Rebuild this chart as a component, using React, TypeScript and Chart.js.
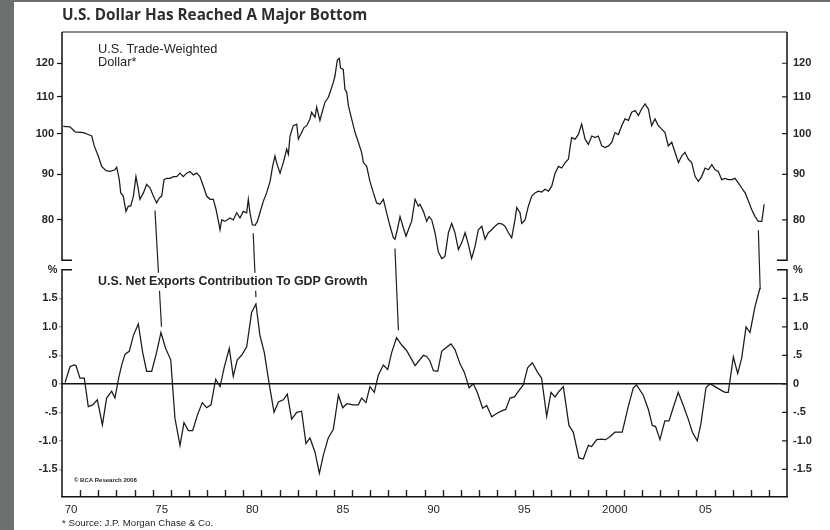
import React, { useEffect, useRef } from 'react';
import { Chart, registerables } from 'chart.js';

Chart.register(...registerables);

// ---------- texts ----------
const TITLE = 'U.S. Dollar Has Reached A Major Bottom';
const SOURCE_NOTE = '* Source: J.P. Morgan Chase & Co.';
const DOLLAR_NAME = ['U.S. Trade-Weighted', 'Dollar*'];
const NET_NAME = 'U.S. Net Exports Contribution To GDP Growth';
const COPYRIGHT = '\u00A9 BCA Research 2008';

// ---------- axes ----------
const YEAR_MIN = 1970;
const YEAR_MAX = 2010;
const YEAR_LABEL_POS = [1970.5, 1975.5, 1980.5, 1985.5, 1990.5, 1995.5, 2000.5, 2005.5];
const YEAR_LABELS = ['70', '75', '80', '85', '90', '95', '2000', '05'];

const DOLLAR_TICKS = [80, 90, 100, 110, 120];
const DOLLAR_MIN = 71.2;
const DOLLAR_MAX = 130.1;
const DOLLAR_PANEL_FLOOR = 72.1;

const NET_TICKS = [-1.5, -1, -0.5, 0, 0.5, 1, 1.5, 2];
const NET_TICK_LABELS = ['-1.5', '-1.0', '-.5', '0', '.5', '1.0', '1.5', '%'];
const NET_MIN = -1.986;
const NET_MAX = 2.084;
const NET_PANEL_CEILING = 2;

// ---------- data: U.S. trade-weighted dollar (log scale) ----------
const DOLLAR_DATES = [
  1970.07, 1970.44, 1970.72, 1971.18, 1971.45, 1971.64, 1971.78, 1972.0, 1972.19, 1972.43,
  1972.65, 1972.92, 1973.02, 1973.16, 1973.24, 1973.38, 1973.53, 1973.66, 1973.79, 1973.94,
  1974.08, 1974.21, 1974.3, 1974.49, 1974.67, 1974.86, 1975.04, 1975.22, 1975.37, 1975.5,
  1975.63, 1975.77, 1975.96, 1976.14, 1976.33, 1976.51, 1976.69, 1976.88, 1977.06, 1977.25,
  1977.43, 1977.61, 1977.8, 1977.98, 1978.17, 1978.35, 1978.5, 1978.63, 1978.72, 1978.81,
  1978.99, 1979.27, 1979.45, 1979.64, 1979.82, 1980.0, 1980.19, 1980.28, 1980.37, 1980.5,
  1980.65, 1980.78, 1980.92, 1981.11, 1981.29, 1981.48, 1981.62, 1981.75, 1981.84, 1982.03,
  1982.21, 1982.4, 1982.49, 1982.58, 1982.76, 1982.95, 1983.04, 1983.22, 1983.35, 1983.5,
  1983.68, 1983.77, 1983.96, 1984.05, 1984.23, 1984.33, 1984.51, 1984.69, 1984.79, 1984.97,
  1985.06, 1985.19, 1985.3, 1985.37, 1985.52, 1985.61, 1985.71, 1985.8, 1985.98, 1986.17,
  1986.35, 1986.53, 1986.63, 1986.81, 1986.99, 1987.18, 1987.36, 1987.54, 1987.73, 1987.91,
  1988.1, 1988.28, 1988.37, 1988.5, 1988.65, 1988.83, 1988.98, 1989.11, 1989.29, 1989.48,
  1989.66, 1989.75, 1989.94, 1990.12, 1990.25, 1990.4, 1990.58, 1990.76, 1990.95, 1991.13,
  1991.32, 1991.5, 1991.68, 1991.87, 1992.05, 1992.24, 1992.42, 1992.6, 1992.79, 1992.97,
  1993.16, 1993.34, 1993.52, 1993.71, 1993.89, 1994.08, 1994.26, 1994.44, 1994.63, 1994.81,
  1994.99, 1995.09, 1995.27, 1995.36, 1995.55, 1995.73, 1995.92, 1996.1, 1996.28, 1996.47,
  1996.65, 1996.84, 1997.02, 1997.2, 1997.39, 1997.57, 1997.76, 1997.94, 1998.03, 1998.12,
  1998.31, 1998.49, 1998.67, 1998.86, 1999.04, 1999.23, 1999.41, 1999.59, 1999.78, 1999.96,
  2000.15, 2000.33, 2000.51, 2000.7, 2000.88, 2001.06, 2001.25, 2001.43, 2001.62, 2001.8,
  2001.98, 2002.17, 2002.35, 2002.53, 2002.72, 2002.9, 2003.09, 2003.27, 2003.45, 2003.64,
  2003.82, 2004.01, 2004.19, 2004.37, 2004.56, 2004.74, 2004.93, 2005.11, 2005.29, 2005.48,
  2005.66, 2005.85, 2006.03, 2006.21, 2006.4, 2006.58, 2006.77, 2006.95, 2007.13, 2007.32,
  2007.5, 2007.69, 2007.87, 2008.05, 2008.24, 2008.42, 2008.61, 2008.74,
];
const DOLLAR_VALUES = [
  101.9, 101.8, 100.5, 100.3, 99.8, 99.4, 96.9, 94.4, 91.9, 90.9,
  90.7, 91.1, 91.7, 88.8, 85.8, 85.1, 81.8, 82.9, 82.9, 85.1,
  89.5, 86.6, 84.4, 85.8, 87.7, 86.9, 85.1, 83.6, 84.7, 85.1,
  88.8, 89.1, 89.1, 89.5, 89.5, 90.3, 89.5, 90.3, 90.7, 89.9,
  90.3, 89.5, 87.3, 85.1, 84.4, 84.4, 82.2, 79.7, 78.0, 80.0,
  79.7, 80.4, 80.0, 81.5, 80.4, 81.8, 81.5, 84.4, 81.5, 79.0,
  78.9, 79.7, 81.5, 84.0, 85.8, 88.4, 91.9, 94.4, 92.8, 90.3,
  92.8, 96.1, 94.8, 99.4, 102.1, 102.5, 98.6, 100.3, 101.6, 102.1,
  103.9, 105.7, 104.4, 107.1, 103.5, 105.3, 108.5, 109.8, 111.3, 114.2,
  116.1, 121.0, 121.5, 118.5, 118.1, 112.2, 111.3, 107.5, 103.9, 100.3,
  97.8, 95.3, 92.8, 91.9, 88.4, 85.8, 83.6, 83.3, 84.4, 81.5,
  78.7, 76.4, 76.1, 78.0, 80.7, 78.4, 76.7, 78.0, 79.7, 84.4,
  82.9, 83.3, 81.8, 79.7, 80.7, 80.0, 77.4, 73.7, 72.4, 72.8,
  77.4, 79.3, 77.4, 74.1, 75.4, 77.4, 75.1, 72.4, 74.7, 78.0,
  78.7, 76.1, 77.4, 78.0, 78.7, 79.3, 79.2, 78.7, 77.4, 76.4,
  80.0, 82.6, 81.5, 79.3, 80.0, 82.9, 85.1, 85.8, 86.2, 86.0,
  86.6, 86.2, 87.3, 90.2, 91.9, 91.5, 92.8, 93.6, 96.5, 99.0,
  98.6, 99.8, 102.5, 98.6, 97.3, 99.4, 99.0, 99.4, 96.9, 96.5,
  96.9, 97.8, 100.3, 99.8, 102.1, 103.9, 103.5, 105.7, 106.2, 104.8,
  106.6, 108.0, 106.6, 102.1, 103.9, 102.1, 101.2, 100.3, 96.9, 97.8,
  95.3, 92.8, 94.4, 95.3, 93.6, 92.8, 89.5, 88.4, 89.5, 91.5,
  91.1, 92.3, 91.1, 90.7, 88.8, 89.1, 88.8, 88.8, 89.1, 88.0,
  86.9, 85.8, 84.0, 82.2, 80.7, 79.7, 79.7, 83.3,
];

// ---------- data: U.S. net exports contribution to GDP growth (%) ----------
const NET_DATES = [
  1970.17, 1970.44, 1970.66, 1970.77, 1970.99, 1971.23, 1971.45, 1971.69, 1971.95, 1972.23,
  1972.46, 1972.74, 1972.92, 1973.14, 1973.31, 1973.48, 1973.71, 1973.94, 1974.21, 1974.45,
  1974.67, 1974.95, 1975.22, 1975.46, 1975.72, 1976.0, 1976.23, 1976.51, 1976.73, 1976.97,
  1977.21, 1977.47, 1977.74, 1977.98, 1978.22, 1978.48, 1978.72, 1978.96, 1979.23, 1979.45,
  1979.67, 1979.91, 1980.19, 1980.46, 1980.7, 1980.92, 1981.16, 1981.44, 1981.7, 1981.94,
  1982.21, 1982.43, 1982.67, 1982.95, 1983.22, 1983.46, 1983.68, 1983.96, 1984.2, 1984.42,
  1984.69, 1984.97, 1985.25, 1985.49, 1985.71, 1986.07, 1986.35, 1986.53, 1986.77, 1986.99,
  1987.23, 1987.45, 1987.73, 1987.97, 1988.19, 1988.46, 1988.74, 1989.02, 1989.48, 1989.94,
  1990.12, 1990.3, 1990.49, 1990.73, 1990.95, 1991.13, 1991.46, 1991.68, 1991.96, 1992.2,
  1992.46, 1992.69, 1992.91, 1993.21, 1993.43, 1993.71, 1993.98, 1994.29, 1994.48, 1994.72,
  1994.96, 1995.21, 1995.45, 1995.69, 1995.95, 1996.24, 1996.46, 1996.74, 1996.98, 1997.2,
  1997.43, 1997.66, 1997.97, 1998.21, 1998.52, 1998.76, 1999.04, 1999.22, 1999.5, 1999.77,
  1999.99, 2000.23, 2000.51, 2000.91, 2001.24, 2001.52, 2001.7, 2002.07, 2002.35, 2002.57,
  2002.75, 2002.99, 2003.26, 2003.49, 2003.72, 2004.0, 2004.28, 2004.55, 2004.78, 2005.05,
  2005.25, 2005.53, 2005.75, 2006.03, 2006.4, 2006.58, 2006.76, 2007.04, 2007.28, 2007.5,
  2007.74, 2007.96, 2008.23, 2008.51,
];
const NET_VALUES = [
  0.02, 0.30, 0.33, 0.32, 0.10, 0.10, -0.40, -0.37, -0.28, -0.72,
  -0.25, -0.13, -0.25, 0.12, 0.35, 0.52, 0.57, 0.85, 1.05, 0.55,
  0.22, 0.22, 0.55, 0.90, 0.62, 0.42, -0.60, -1.08, -0.68, -0.82,
  -0.82, -0.55, -0.33, -0.42, -0.37, 0.08, -0.05, 0.30, 0.62, 0.13,
  0.42, 0.50, 0.65, 1.25, 1.40, 0.85, 0.55, -0.02, -0.50, -0.32,
  -0.28, -0.18, -0.62, -0.50, -0.48, -1.05, -0.95, -1.20, -1.57, -1.25,
  -0.95, -0.80, -0.20, -0.42, -0.35, -0.37, -0.37, -0.25, -0.33, -0.05,
  -0.15, 0.15, 0.33, 0.25, 0.55, 0.81, 0.68, 0.58, 0.32, 0.50,
  0.48, 0.40, 0.23, 0.22, 0.57, 0.62, 0.70, 0.60, 0.35, 0.20,
  -0.07, 0.00, -0.15, -0.43, -0.38, -0.58, -0.52, -0.47, -0.45, -0.25,
  -0.23, -0.12, -0.02, 0.28, 0.37, 0.20, 0.10, -0.57, -0.15, -0.23,
  -0.13, -0.05, -0.73, -0.85, -1.30, -1.32, -1.08, -1.10, -0.98, -0.97,
  -0.98, -0.93, -0.85, -0.85, -0.40, -0.07, -0.02, -0.20, -0.45, -0.73,
  -0.75, -0.98, -0.65, -0.65, -0.42, -0.15, -0.38, -0.62, -0.85, -1.00,
  -0.70, -0.07, 0.00, -0.05, -0.12, -0.15, -0.15, 0.47, 0.18, 0.45,
  1.00, 0.90, 1.35, 1.68,
];

// ---------- connector lines: dollar trough -> net exports peak ----------
const CONNECTOR_FROM_YEAR = [1975.13, 1980.55, 1988.37, 2008.42];
const CONNECTOR_FROM_DOLLAR = [82.0, 77.3, 74.3, 77.9];
const CONNECTOR_TO_YEAR = [1975.49, 1980.7, 1988.56, 2008.52];
const CONNECTOR_TO_NET = [1.0, 1.52, 0.94, 1.66];

// ---------- style ----------
const FONT = '"Liberation Sans", Arial, Helvetica, sans-serif';
const TEXT = '#262626';
const AXIS = '#111111';
const LINE = '#1a1a1a';

const decorPlugin = {
  id: 'decor',
  afterDatasetsDraw(chart: any) {
    const ctx: CanvasRenderingContext2D = chart.ctx;
    const { left, right, top, bottom } = chart.chartArea;
    const sx = chart.scales.x;
    const yD = chart.scales.yD;
    const yN = chart.scales.yN;
    const yDR = chart.scales.yDR;
    const yNR = chart.scales.yNR;
    const dFloor = yD.getPixelForValue(DOLLAR_PANEL_FLOOR);
    const nCeil = yN.getPixelForValue(NET_PANEL_CEILING);

    ctx.save();
    // top border of upper panel
    ctx.strokeStyle = '#8f8f8f';
    ctx.lineWidth = 2;
    ctx.beginPath();
    ctx.moveTo(left, top);
    ctx.lineTo(right, top);
    ctx.stroke();

    // panel axis lines
    ctx.strokeStyle = AXIS;
    ctx.lineWidth = 1.5;
    ctx.beginPath();
    ctx.moveTo(left, top);
    ctx.lineTo(left, dFloor);
    ctx.lineTo(left + 10, dFloor);
    ctx.moveTo(left + 10, nCeil);
    ctx.lineTo(left, nCeil);
    ctx.lineTo(left, bottom);
    ctx.moveTo(right, top);
    ctx.lineTo(right, dFloor);
    ctx.lineTo(right - 10, dFloor);
    ctx.moveTo(right - 10, nCeil);
    ctx.lineTo(right, nCeil);
    ctx.lineTo(right, bottom);
    ctx.stroke();

    // year ticks on the bottom axis (pointing inward)
    ctx.lineWidth = 1.4;
    ctx.strokeStyle = '#222';
    ctx.beginPath();
    for (let yr = YEAR_MIN + 1; yr < YEAR_MAX; yr++) {
      const px = Math.round(sx.getPixelForValue(yr)) + 0.5;
      ctx.moveTo(px, bottom);
      ctx.lineTo(px, bottom - 7);
    }
    ctx.stroke();

    // right-axis ticks (pointing inward)
    ctx.lineWidth = 1.2;
    ctx.beginPath();
    for (const v of DOLLAR_TICKS) {
      const py = yDR.getPixelForValue(v);
      ctx.moveTo(right - 5, py);
      ctx.lineTo(right, py);
    }
    for (const v of NET_TICKS) {
      if (v === NET_PANEL_CEILING) continue;
      const py = yNR.getPixelForValue(v);
      ctx.moveTo(right - 5, py);
      ctx.lineTo(right, py);
    }
    ctx.stroke();

    // connectors
    ctx.strokeStyle = '#222';
    ctx.lineWidth = 1.2;
    ctx.beginPath();
    for (let i = 0; i < CONNECTOR_FROM_YEAR.length; i++) {
      ctx.moveTo(sx.getPixelForValue(CONNECTOR_FROM_YEAR[i]), yD.getPixelForValue(CONNECTOR_FROM_DOLLAR[i]));
      ctx.lineTo(sx.getPixelForValue(CONNECTOR_TO_YEAR[i]), yN.getPixelForValue(CONNECTOR_TO_NET[i]));
    }
    ctx.stroke();

    // panel names
    ctx.fillStyle = TEXT;
    ctx.textBaseline = 'middle';
    ctx.textAlign = 'left';
    ctx.font = `12.8px ${FONT}`;
    ctx.fillText(DOLLAR_NAME[0], left + 36, top + 17);
    ctx.fillText(DOLLAR_NAME[1], left + 36, top + 30);

    ctx.font = `bold 12.4px ${FONT}`;
    const netY = nCeil + 11.5;
    const w = ctx.measureText(NET_NAME).width;
    ctx.fillStyle = '#ffffff';
    ctx.fillRect(left + 33, netY - 8.5, w + 6, 18);
    ctx.fillStyle = TEXT;
    ctx.fillText(NET_NAME, left + 36, netY);

    ctx.font = `bold 6px ${FONT}`;
    ctx.fillText(COPYRIGHT, left + 12, bottom - 16.5);
    ctx.restore();
  },
};

export default function App() {
  const canvasRef = useRef<HTMLCanvasElement | null>(null);

  useEffect(() => {
    const canvas = canvasRef.current;
    if (!canvas) return;
    const tickFont = { family: FONT, size: 11, weight: 'bold' as const };
    const chart = new Chart(canvas, {
      type: 'line',
      data: {
        datasets: [
          {
            label: 'U.S. Trade-Weighted Dollar',
            data: DOLLAR_DATES.map((d, i) => ({ x: d, y: DOLLAR_VALUES[i] })),
            xAxisID: 'x',
            yAxisID: 'yD',
            borderColor: LINE,
            borderWidth: 1.25,
            pointRadius: 0,
            tension: 0,
            fill: false,
          },
          {
            label: 'U.S. Net Exports Contribution To GDP Growth',
            data: NET_DATES.map((d, i) => ({ x: d, y: NET_VALUES[i] })),
            xAxisID: 'x',
            yAxisID: 'yN',
            borderColor: LINE,
            borderWidth: 1.25,
            pointRadius: 0,
            tension: 0,
            fill: false,
          },
        ],
      },
      options: {
        responsive: false,
        animation: false,
        devicePixelRatio: 1,
        events: [],
        layout: { padding: { top: 32, left: 0, right: 0, bottom: 0 } },
        plugins: {
          legend: { display: false },
          tooltip: { enabled: false },
          title: { display: false },
        },
        scales: {
          x: {
            type: 'linear',
            position: 'bottom',
            min: YEAR_MIN,
            max: YEAR_MAX,
            afterBuildTicks: (s: any) => {
              s.ticks = YEAR_LABEL_POS.map((v) => ({ value: v }));
            },
            afterFit: (s: any) => {
              s.height = 33;
            },
            ticks: {
              autoSkip: false,
              maxRotation: 0,
              padding: 6,
              color: TEXT,
              font: { family: FONT, size: 11.5 },
              callback: (v: any) => YEAR_LABELS[YEAR_LABEL_POS.indexOf(Number(v))] ?? '',
            },
            grid: { drawOnChartArea: false, drawTicks: false },
            border: { display: true, color: AXIS, width: 1.5 },
          },
          yD: {
            type: 'logarithmic',
            position: 'left',
            stack: 'left',
            stackWeight: 233,
            weight: 1,
            min: DOLLAR_MIN,
            max: DOLLAR_MAX,
            afterBuildTicks: (s: any) => {
              s.ticks = DOLLAR_TICKS.map((v) => ({ value: v }));
            },
            afterFit: (s: any) => {
              s.width = 62;
            },
            ticks: {
              autoSkip: false,
              padding: 3,
              color: TEXT,
              font: tickFont,
              callback: (v: any) => String(v),
            },
            grid: { drawOnChartArea: false, drawTicks: true, tickLength: 5, tickColor: AXIS, tickWidth: 1.2 },
            border: { display: false },
          },
          yN: {
            type: 'linear',
            position: 'left',
            stack: 'left',
            stackWeight: 232,
            weight: 0,
            min: NET_MIN,
            max: NET_MAX,
            afterBuildTicks: (s: any) => {
              s.ticks = NET_TICKS.map((v) => ({ value: v }));
            },
            afterFit: (s: any) => {
              s.width = 62;
            },
            ticks: {
              autoSkip: false,
              padding: 1.5,
              color: TEXT,
              font: tickFont,
              callback: (v: any) => NET_TICK_LABELS[NET_TICKS.indexOf(Number(v))] ?? '',
            },
            grid: {
              drawOnChartArea: true,
              color: (c: any) => (c.tick && c.tick.value === 0 ? AXIS : 'rgba(0,0,0,0)'),
              lineWidth: 1.5,
              drawTicks: true,
              tickLength: 3,
              tickWidth: 1,
              tickColor: (c: any) => (c.tick && c.tick.value === NET_PANEL_CEILING ? 'rgba(0,0,0,0)' : '#8a8a8a'),
            },
            border: { display: false },
          },
          yDR: {
            type: 'logarithmic',
            position: 'right',
            stack: 'right',
            stackWeight: 233,
            weight: 0,
            min: DOLLAR_MIN,
            max: DOLLAR_MAX,
            afterBuildTicks: (s: any) => {
              s.ticks = DOLLAR_TICKS.map((v) => ({ value: v }));
            },
            afterFit: (s: any) => {
              s.width = 43;
            },
            ticks: {
              autoSkip: false,
              padding: 6,
              color: TEXT,
              font: tickFont,
              callback: (v: any) => String(v),
            },
            grid: { drawOnChartArea: false, drawTicks: false },
            border: { display: false },
          },
          yNR: {
            type: 'linear',
            position: 'right',
            stack: 'right',
            stackWeight: 232,
            weight: 1,
            min: NET_MIN,
            max: NET_MAX,
            afterBuildTicks: (s: any) => {
              s.ticks = NET_TICKS.map((v) => ({ value: v }));
            },
            afterFit: (s: any) => {
              s.width = 43;
            },
            ticks: {
              autoSkip: false,
              padding: 6,
              color: TEXT,
              font: tickFont,
              callback: (v: any) => NET_TICK_LABELS[NET_TICKS.indexOf(Number(v))] ?? '',
            },
            grid: { drawOnChartArea: false, drawTicks: false },
            border: { display: false },
          },
        },
      } as any,
      plugins: [decorPlugin],
    });
    return () => chart.destroy();
  }, []);

  return (
    <div style={{ position: 'absolute', left: 0, top: 0, width: 830, height: 530, background: '#ffffff', overflow: 'hidden' }}>
      <div style={{ position: 'absolute', left: 0, top: 0, width: 14, height: 530, background: '#6c706d' }} />
      <div style={{ position: 'absolute', left: 0, top: 0, width: 830, height: 2, background: '#6c706d' }} />
      <canvas
        ref={canvasRef}
        width={830}
        height={530}
        style={{ position: 'absolute', left: 0, top: 0, width: 830, height: 530 }}
      />
      <div
        style={{
          position: 'absolute',
          left: 62,
          top: 4,
          font: 'bold 15.3px "Open Sans", "Liberation Sans", sans-serif',
          lineHeight: '20px',
          color: '#2e2e2e',
          whiteSpace: 'nowrap',
        }}
      >
        {TITLE}
      </div>
      <div
        style={{
          position: 'absolute',
          left: 62,
          top: 516,
          font: `9.7px ${FONT}`,
          lineHeight: '13px',
          color: TEXT,
          whiteSpace: 'nowrap',
        }}
      >
        {SOURCE_NOTE}
      </div>
    </div>
  );
}
